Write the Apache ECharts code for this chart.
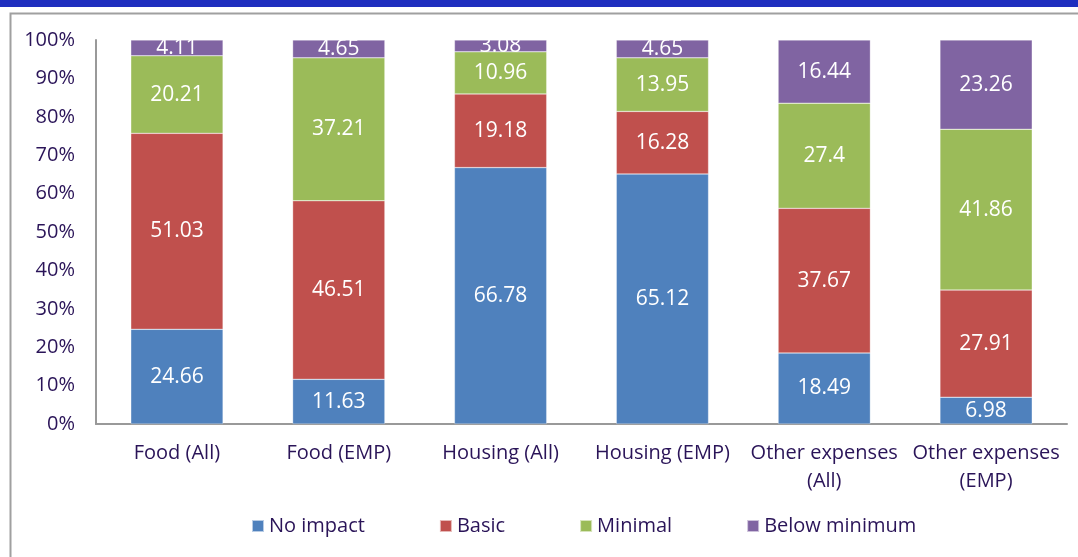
<!DOCTYPE html>
<html lang="en">
<head>
    <meta charset="UTF-8">
    <title>Impact by expense type</title>
    <style>
        html, body { margin: 0; padding: 0; background: #fff; }
        #chart { width: 1078px; height: 557px; }
    </style>
</head>
<body>
<div id="chart"></div>
<script src="https://cdn.jsdelivr.net/npm/echarts@6/dist/echarts.min.js"></script>
<script>
    // categories and series values (percent shares)
    var categories = ['Food (All)', 'Food (EMP)', 'Housing (All)', 'Housing (EMP)', 'Other expenses\n(All)', 'Other expenses\n(EMP)'];
    var noImpact     = [24.66, 11.63, 66.78, 65.12, 18.49, 6.98];
    var basic        = [51.03, 46.51, 19.18, 16.28, 37.67, 27.91];
    var minimal      = [20.21, 37.21, 10.96, 13.95, 27.4, 41.86];
    var belowMinimum = [4.11, 4.65, 3.08, 4.65, 16.44, 23.26];
    var seriesNames  = ['No impact', 'Basic', 'Minimal', 'Below minimum'];
    var colors       = ['#4F81BD', '#C0504D', '#9BBB59', '#8064A2'];

    var textColor = '#2A1458';
    var fontFamily = '"Open Sans", "Noto Sans", sans-serif';

    function makeSeries(name, data, color) {
        return {
            name: name,
            type: 'bar',
            stack: 'total',
            barWidth: '57%',
            itemStyle: {color: color, borderColor: 'rgba(255,255,255,0.6)', borderWidth: 0.5},
            label: {
                show: true,
                position: 'inside',
                color: '#fff',
                fontSize: 21,
                fontFamily: fontFamily
            },
            data: data
        };
    }

    var chart = echarts.init(document.getElementById('chart'));
    var option = {
        animation: false,
        textStyle: {fontFamily: fontFamily},
        graphic: [
            // top band
            {type: 'rect', shape: {x: 0, y: 0, width: 1078, height: 7}, style: {fill: '#1F2FBF'}},
            // frame
            {type: 'polyline', shape: {points: [[10.5, 557], [10.5, 13.5], [1078, 13.5]]},
             style: {stroke: '#A0A0A0', lineWidth: 2, fill: null}}
        ],
        grid: {left: 96, right: 11, top: 40, bottom: 133},
        legend: {
            data: seriesNames,
            bottom: 16,
            left: 246,
            itemWidth: 12,
            itemHeight: 12,
            itemGap: 74,
            icon: 'rect',
            textStyle: {color: textColor, fontSize: 20, fontFamily: fontFamily}
        },
        xAxis: {
            type: 'category',
            data: categories,
            axisLine: {lineStyle: {color: '#999', width: 2}},
            axisTick: {show: false},
            axisLabel: {color: textColor, fontSize: 20, margin: 15, lineHeight: 28, interval: 0, fontFamily: fontFamily}
        },
        yAxis: {
            type: 'value',
            min: 0,
            max: 100,
            interval: 10,
            axisLine: {show: true, lineStyle: {color: '#999', width: 2}},
            axisTick: {show: false},
            splitLine: {show: false},
            axisLabel: {color: textColor, fontSize: 20, margin: 21, formatter: '{value}%', fontFamily: fontFamily}
        },
        series: [
            makeSeries(seriesNames[0], noImpact, colors[0]),
            makeSeries(seriesNames[1], basic, colors[1]),
            makeSeries(seriesNames[2], minimal, colors[2]),
            makeSeries(seriesNames[3], belowMinimum, colors[3])
        ]
    };
    chart.setOption(option);
</script>
</body>
</html>
